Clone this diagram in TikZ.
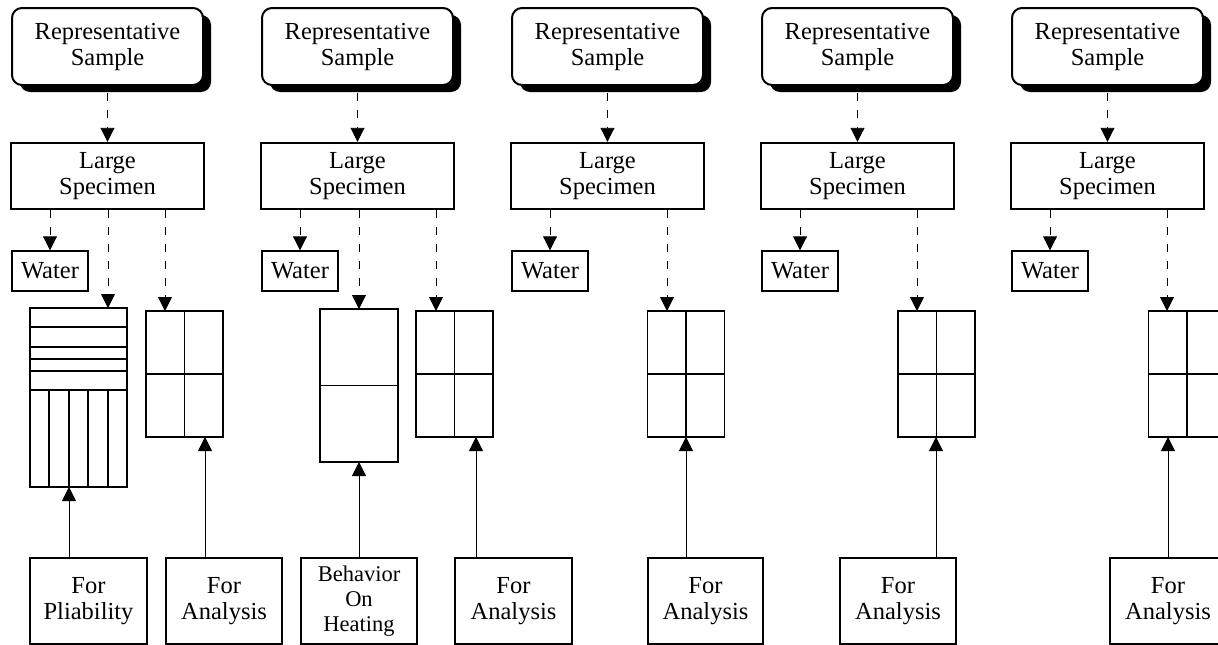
\documentclass[tikz,border=0pt]{standalone}
\usepackage{fontspec}
\setmainfont{Liberation Serif}
\usetikzlibrary{arrows.meta,shadows}
\begin{document}
\begin{tikzpicture}[x=1pt,y=-1pt,
  every node/.style={font=\fontsize{24.5}{26}\selectfont, align=center, inner sep=0pt},
  repbox/.style={draw, line width=2pt, rounded corners=10pt, fill=white,
    minimum width=191pt, minimum height=77pt,
    drop shadow={shadow xshift=8pt, shadow yshift=-7pt, opacity=1, fill=black}},
  lsbox/.style={draw, line width=2.4pt, fill=white, minimum width=193pt, minimum height=66pt},
  wbox/.style={draw, line width=1.4pt, minimum width=76pt, minimum height=40pt},
  gbox/.style={draw, line width=1.4pt},
  abox/.style={gbox, minimum width=77pt, minimum height=126pt},
  fbox/.style={draw, line width=1.2pt, minimum height=86pt},
  gl/.style={line width=1.4pt},
  dl/.style={line width=0.9pt, dash pattern=on 8pt off 9pt},
  sl/.style={line width=0.9pt},
  arr/.style={-{Triangle[width=14pt,length=14pt]}}
]
\useasboundingbox (0,0) rectangle (1218,645);
\clip (0,0) rectangle (1218,645);

% shared top part of each panel
\foreach \i in {1,...,5}{
  \pgfmathsetmacro\dx{250*(\i-1)}
  \node[repbox] (R\i) at (107.5+\dx,46.5) {Representative\\Sample};
  \node[lsbox] (L\i) at (107.5+\dx,176) {Large\\Specimen};
  \node[wbox] (W\i) at (50+\dx,271) {Water};
  \draw[dl,arr] ([yshift=-7pt]R\i.south) -- (L\i.north);
  \draw[dl,arr] (L\i.south -| W\i.north) -- (W\i.north);
}

% ---------- panel 1 ----------
\node[gbox, minimum width=97pt, minimum height=179pt] (P) at (78.5,397.5) {};
\foreach \yy in {327,347,359,371,390} \draw[gl] (30,\yy) -- (127,\yy);
\foreach \xx in {49,69,88,108} \draw[gl] (\xx,390) -- (\xx,487);
\node[abox] (A1) at (184.5,374) {};
\node[fbox, minimum width=117pt] (FP) at (88.5,601) {For\\Pliability};
\node[fbox, minimum width=116pt] (FA1) at (224,601) {For\\Analysis};
\coordinate (Ptop) at (108,308);
\coordinate (Pbot) at (69,487);
\coordinate (A1top) at (165,311);
\coordinate (A1bot) at (205,437);

% ---------- panel 2 ----------
\node[gbox, minimum width=78pt, minimum height=153pt] (H) at (359,385.5) {};
\draw[gl] (H.west) -- (H.east);
\node[abox] (A2) at (454.5,374) {};
\node[fbox, minimum width=116pt, font=\fontsize{22.5}{25}\selectfont] (BH) at (359,601) {Behavior\\On\\Heating};
\node[fbox, minimum width=117pt] (FA2) at (513.5,601) {For\\Analysis};
\coordinate (Htop) at (359,309);
\coordinate (Hbot) at (359,462);
\coordinate (A2top) at (436,311);
\coordinate (A2bot) at (476,437);

% ---------- panels 3-5 ----------
\node[abox] (A3) at (686,374) {};
\node[fbox, minimum width=115pt] (FA3) at (705.5,601) {For\\Analysis};
\coordinate (A3top) at (667,311);
\coordinate (A3bot) at (686,437);

\node[abox] (A4) at (936.5,374) {};
\node[fbox, minimum width=116pt] (FA4) at (898,601) {For\\Analysis};
\coordinate (A4top) at (917,311);
\coordinate (A4bot) at (936,437);

\node[abox] (A5) at (1187,374) {};
\node[fbox, minimum width=116pt] (FA5) at (1168,601) {For\\Analysis};
\coordinate (A5top) at (1167,311);
\coordinate (A5bot) at (1168,437);

% inner lines of the analysis grids
\foreach \a in {A1,A2,A3,A4,A5}{
  \draw[gl] (\a.north) -- (\a.south);
  \draw[gl] (\a.west) -- (\a.east);
}

% dashed arrows from the large specimen
\draw[dl,arr] (L1.south -| Ptop) -- (Ptop);
\draw[dl,arr] (L1.south -| A1top) -- (A1top);
\draw[dl,arr] (L2.south -| Htop) -- (Htop);
\draw[dl,arr] (L2.south -| A2top) -- (A2top);
\draw[dl,arr] (L3.south -| A3top) -- (A3top);
\draw[dl,arr] (L4.south -| A4top) -- (A4top);
\draw[dl,arr] (L5.south -| A5top) -- (A5top);

% solid arrows from the bottom boxes
\draw[sl,arr] (FP.north -| Pbot) -- (Pbot);
\draw[sl,arr] (FA1.north -| A1bot) -- (A1bot);
\draw[sl,arr] (BH.north -| Hbot) -- (Hbot);
\draw[sl,arr] (FA2.north -| A2bot) -- (A2bot);
\draw[sl,arr] (FA3.north -| A3bot) -- (A3bot);
\draw[sl,arr] (FA4.north -| A4bot) -- (A4bot);
\draw[sl,arr] (FA5.north -| A5bot) -- (A5bot);
\end{tikzpicture}
\end{document}
